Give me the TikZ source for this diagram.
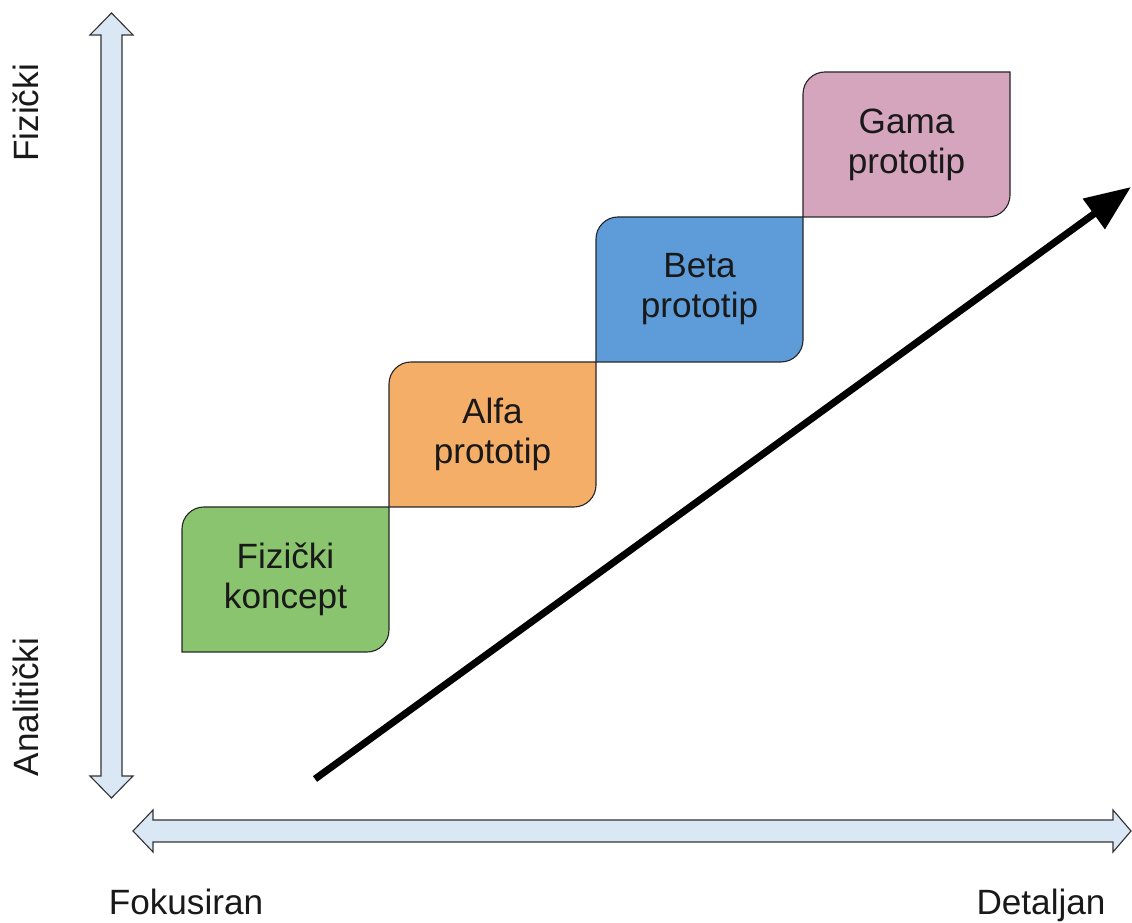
\documentclass[tikz,border=0pt]{standalone}
\usepackage{fontspec}
\setmainfont{Liberation Sans}
\usetikzlibrary{positioning,arrows.meta,backgrounds}
\definecolor{zelena}{RGB}{139,196,110}
\definecolor{narandzasta}{RGB}{245,174,104}
\definecolor{plava}{RGB}{93,156,216}
\definecolor{roza}{RGB}{213,165,190}
\definecolor{osaboja}{RGB}{218,232,246}

\begin{document}
\begin{tikzpicture}[
        % --- stilovi ---
        proto/.style={rectangle, minimum width=5.175cm, minimum height=3.625cm, inner sep=0pt, outer sep=0pt, align=center, text=black!90, font=\fontsize{25}{28.5}\selectfont},
        oblik/.style={draw=black!85, line width=0.8pt},
        osa/.style={draw=black!80, fill=osaboja, line width=0.8pt},
        natpis/.style={anchor=base, text=black!90, font=\fontsize{25}{30}\selectfont},
        tok/.style={line width=5pt, -{Triangle[length=1.15cm, width=0.9cm]}}
        % ----------------
    ]
    \useasboundingbox (0,0) rectangle (28.3,23.075);

    % vertikalna osa
    \draw[osa] (2.7875,22.75) -- (3.325,22.2) -- (3.05,22.2) -- (3.05,3.675) -- (3.325,3.675)
        -- (2.7875,3.125) -- (2.25,3.675) -- (2.525,3.675) -- (2.525,22.2) -- (2.25,22.2) -- cycle;
    % horizontalna osa
    \draw[osa] (3.325,2.3) -- (3.825,2.825) -- (3.825,2.575) -- (27.825,2.575) -- (27.825,2.825)
        -- (28.275,2.3) -- (27.825,1.775) -- (27.825,2.025) -- (3.825,2.025) -- (3.825,1.775) -- cycle;

    % --- prototipovi ---
    \node[proto, anchor=south west] (fizicki) at (4.55,6.775) {Fizički\\koncept};
    \node[proto, above right=0pt of fizicki] (alfa) {Alfa\\prototip};
    \node[proto, above right=0pt of alfa] (beta) {Beta\\prototip};
    \node[proto, above right=0pt of beta] (gama) {Gama\\prototip};

    \begin{scope}[on background layer]
        \foreach \n/\c in {fizicki/zelena, alfa/narandzasta, beta/plava, gama/roza}
            \draw[oblik, fill=\c] (\n.south west) -- ([yshift=-5.5mm]\n.north west)
                arc[start angle=180, end angle=90, radius=5.5mm] -- (\n.north east)
                -- ([yshift=5.5mm]\n.south east) arc[start angle=0, end angle=-90, radius=5.5mm] -- cycle;
    \end{scope}

    % velika strelica
    \coordinate (pocetak) at (7.875,3.6);
    \coordinate (vrh) at (28.275,18.4);
    \draw[tok] (pocetak) -- (vrh);

    % --- natpisi osa ---
    \node[natpis, rotate=90] (fiz) at (0.95,20.25) {Fizički};
    \node[natpis, rotate=90] (anal) at (0.95,5.4) {Analitički};
    \node[natpis] (fok) at (4.65,0.2) {Fokusiran};
    \node[natpis] (det) at (26.025,0.2) {Detaljan};
\end{tikzpicture}
\end{document}
